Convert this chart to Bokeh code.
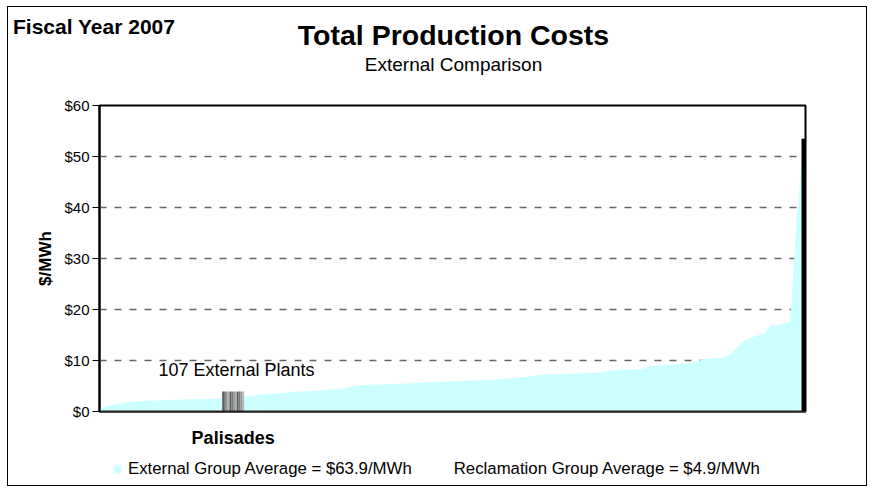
from bokeh.plotting import figure
from bokeh.layouts import column
from bokeh.models import (Range1d, FixedTicker, PrintfTickFormatter, Label,
                          Legend, LegendItem)
from bokeh.embed import file_html
from bokeh.resources import INLINE

# ---------------- data ----------------
plant_costs = [
    0.6, 1.1, 1.3, 1.5, 1.8, 1.9, 2.0, 2.1, 2.1, 2.2,
    2.2, 2.3, 2.3, 2.4, 2.4, 2.4, 2.5, 2.5, 2.6, 2.7,
    2.8, 2.9, 3.0, 3.1, 3.3, 3.4, 3.5, 3.6, 3.7, 3.8,
    3.9, 4.0, 4.0, 4.1, 4.2, 4.3, 4.4, 4.6, 4.9, 5.1,
    5.2, 5.2, 5.3, 5.3, 5.4, 5.4, 5.5, 5.6, 5.6, 5.7,
    5.8, 5.8, 5.9, 5.9, 6.0, 6.0, 6.1, 6.1, 6.2, 6.2,
    6.3, 6.4, 6.5, 6.6, 6.7, 6.9, 7.1, 7.2, 7.3, 7.3,
    7.4, 7.4, 7.5, 7.5, 7.6, 7.6, 7.8, 8.0, 8.2, 8.2,
    8.3, 8.3, 8.4, 8.9, 9.0, 9.1, 9.2, 9.3, 9.4, 9.5,
    9.8, 10.3, 10.4, 10.5, 10.6, 11.3, 12.5, 13.8, 14.4, 14.9,
    15.2, 16.8, 17.0, 17.2, 17.6, 38.0, 53.0,
]
plant_ranks = list(range(1, len(plant_costs) + 1))

palisades_name = "Palisades"
palisades_rank = 21
palisades_cost = 3.9

end_bar_rank = 107
end_bar_cost = 53.5

external_avg = 63.9
reclamation_avg = 4.9

y_ticks = [0, 10, 20, 30, 40, 50, 60]
grid_ticks = [10, 20, 30, 40, 50]

FONT = "Liberation Sans"
W = 858
CYAN = "#CCFFFF"


def blank_figure(height, x_end, y_end):
    f = figure(width=W, height=height, output_backend="svg", toolbar_location=None,
               x_range=Range1d(0, x_end), y_range=Range1d(y_end, 0),
               x_axis_type=None, y_axis_type=None, min_border=0,
               frame_align=False)
    f.grid.visible = False
    f.outline_line_color = None
    f.background_fill_color = "white"
    f.border_fill_color = "white"
    return f


# ---------------- header ----------------
head = blank_figure(80, W, 80)
head.add_layout(Label(x=4.5, y=18.5, text="Fiscal Year 2007", text_font=FONT,
                      text_font_size="21px", text_font_style="bold",
                      text_align="left", text_baseline="middle", text_color="black"))
head.add_layout(Label(x=445, y=27, text="Total Production Costs", text_font=FONT,
                      text_font_size="28.5px", text_font_style="bold",
                      text_align="center", text_baseline="middle", text_color="black"))
head.add_layout(Label(x=445, y=57, text="External Comparison", text_font=FONT,
                      text_font_size="19px", text_align="center",
                      text_baseline="middle", text_color="black"))

# ---------------- main plot ----------------
p = figure(width=W, height=363, output_backend="svg", toolbar_location=None,
           x_range=Range1d(0.85, 107.3), y_range=Range1d(0, 60),
           min_border_left=91, min_border_right=61,
           min_border_top=18, min_border_bottom=39, frame_align=False)
p.background_fill_color = "white"
p.border_fill_color = "white"
p.outline_line_color = "black"
p.outline_line_width = 2

area = p.varea(x=plant_ranks, y1=0, y2=plant_costs, fill_color=CYAN)

# Palisades bar drawn as three shaded stripes
stripe_offsets = [-1.1, 0.0, 1.1]
shade_colors = ["#5e5e5e", "#7a7a7a", "#969696", "#b2b2b2"]
sx, sw, sc = [], [], []
for off in stripe_offsets:
    for j, col in enumerate(shade_colors):
        sx.append(palisades_rank + off - 0.55 + 0.1375 + j * 0.275)
        sw.append(0.275)
        sc.append(col)
p.vbar(x=sx, width=sw, top=palisades_cost, bottom=0, fill_color=sc, line_color=None)

p.vbar(x=[end_bar_rank], width=0.6, top=[end_bar_cost], bottom=0,
       fill_color="black", line_color=None)

p.yaxis.ticker = FixedTicker(ticks=y_ticks)
p.yaxis.formatter = PrintfTickFormatter(format="$%d")
p.yaxis.major_label_text_font = FONT
p.yaxis.major_label_text_font_size = "15px"
p.yaxis.major_label_text_color = "black"
p.yaxis.major_tick_out = 7
p.yaxis.major_tick_in = 0
p.yaxis.minor_tick_line_color = None
p.yaxis.axis_line_width = 2
p.yaxis.axis_line_color = "black"
p.yaxis.major_tick_line_color = "black"
p.yaxis.major_label_standoff = 3
p.yaxis.axis_label = "$/MWh"
p.yaxis.axis_label_text_font = FONT
p.yaxis.axis_label_text_font_size = "17px"
p.yaxis.axis_label_text_font_style = "bold"
p.yaxis.axis_label_text_color = "black"
p.yaxis.axis_label_standoff = 6

p.xaxis.ticker = FixedTicker(ticks=[palisades_rank])
p.xaxis.major_label_overrides = {palisades_rank: palisades_name}
p.xaxis.major_label_text_font = FONT
p.xaxis.major_label_text_font_size = "18px"
p.xaxis.major_label_text_font_style = "bold"
p.xaxis.major_label_text_color = "black"
p.xaxis.major_tick_line_color = None
p.xaxis.major_tick_out = 0
p.xaxis.major_tick_in = 0
p.xaxis.minor_tick_line_color = None
p.xaxis.axis_line_width = 2
p.xaxis.axis_line_color = "#222222"
p.xaxis.major_label_standoff = 16

p.xgrid.visible = False
p.ygrid.ticker = FixedTicker(ticks=grid_ticks)
p.ygrid.grid_line_color = "#666666"
p.ygrid.grid_line_dash = "7 8"
p.ygrid.grid_line_width = 1.3

p.add_layout(Label(x=21.5, y=8.2, text="107 External Plants", text_font=FONT,
                   text_font_size="18px", text_align="center",
                   text_baseline="middle", text_color="black"))

# ---------------- legend footer ----------------
foot = blank_figure(35, W, 35)
# legend key renderers carry the series but sit on a range that keeps them out of view
foot.extra_y_ranges = {"hidden": Range1d(-2000, -1000)}
key_ext = foot.varea(x=plant_ranks, y1=0, y2=plant_costs, fill_color=CYAN,
                     y_range_name="hidden")
key_rec = foot.varea(x=plant_ranks, y1=0, y2=plant_costs, fill_alpha=0,
                     y_range_name="hidden")
legend = Legend(items=[
    LegendItem(label=f"External Group Average = ${external_avg}/MWh", renderers=[key_ext]),
    LegendItem(label=f"Reclamation Group Average = ${reclamation_avg}/MWh", renderers=[key_rec]),
], orientation="horizontal", location=(104, 6),
    glyph_width=10, glyph_height=10, label_standoff=6, spacing=26,
    padding=0, margin=0, border_line_color=None, background_fill_alpha=0,
    label_text_font=FONT, label_text_font_size="16.8px", label_text_color="black")
foot.add_layout(legend)

layout = column(head, p, foot, spacing=0)
layout.styles = {"border": "1px solid black", "margin-left": "7px", "margin-top": "6px"}

open("out.html", "w").write(file_html(layout, INLINE))
